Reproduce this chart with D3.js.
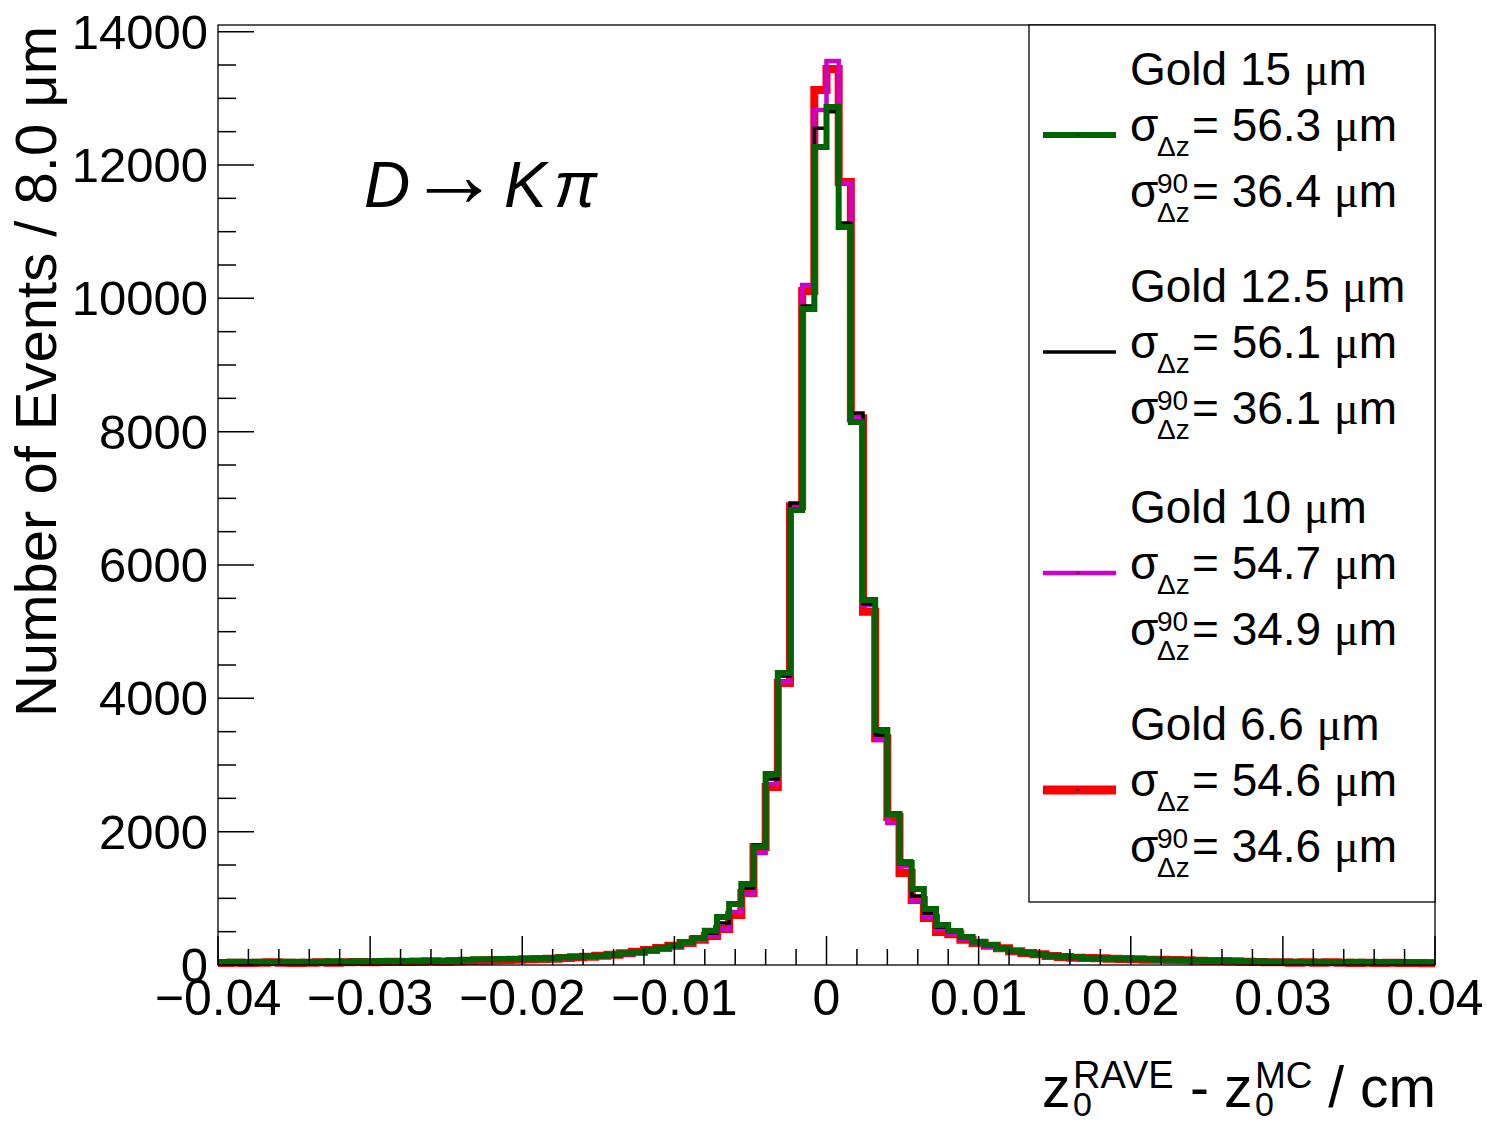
<!DOCTYPE html>
<html><head><meta charset="utf-8">
<script src="https://cdn.jsdelivr.net/npm/d3@7"></script>
<style>body{margin:0;background:#fff}svg{display:block}text{font-family:"Liberation Sans",Arial,sans-serif}</style>
</head><body>
<script>
const xDomain = [-0.04, 0.04];
const yDomain = [0, 14100];
const binWidth = 0.0008;
const xTickValues = [-0.04, -0.03, -0.02, -0.01, 0, 0.01, 0.02, 0.03, 0.04];
const xTickLabels = ["\u22120.04", "\u22120.03", "\u22120.02", "\u22120.01", "0", "0.01", "0.02", "0.03", "0.04"];
const yTickValues = [0, 2000, 4000, 6000, 8000, 10000, 12000, 14000];
const yTickLabels = ["0", "2000", "4000", "6000", "8000", "10000", "12000", "14000"];

const gold15 = [45,50,45,50,45,50,50,45,50,55, 50,55,55,60,55,60,65,60,65,70, 80,85,85,90,90,95,100,105,115,125,
 135,140,150,175,190,225,255,290,340,405, 515,720,915,1215,1770,2865,4380,6825,9840,12270,
 12870,11070,8145,5475,3525,2265,1530,1140,840,600, 510,420,350,300,250,210,180,160,140,125,
 115,105,100,95,90,90,85,80,80,75, 70,65,65,60,55,55,50,50,50,45, 50,45,45,50,45,45,40,45,45,40];
const gold125 = [40,45,50,45,50,45,55,50,45,50, 55,50,60,55,60,65,60,65,70,65, 75,80,90,85,95,90,100,110,110,120,
 130,145,145,170,195,215,250,285,330,390, 480,630,900,1155,1800,2790,4335,6930,9885,12550,
 12800,11130,8280,5415,3450,2250,1560,1035,780,570, 495,405,340,290,245,205,175,155,135,120,
 110,105,95,95,85,85,80,80,75,70, 70,65,60,60,55,50,55,50,45,45, 45,50,45,45,40,45,45,40,40,45];
const gold10 = [35,40,45,40,45,50,45,50,45,50, 50,55,50,55,60,55,60,65,60,65, 70,75,80,80,90,85,95,100,105,115,
 120,130,140,160,180,205,235,270,315,375, 435,540,795,1065,1680,2715,4245,6850,10200,12825,
 13560,11730,8200,5400,3375,2130,1480,960,720,540, 465,385,325,275,235,195,170,150,130,115,
 105,100,95,90,85,80,80,75,70,70, 65,60,60,55,55,50,50,50,45,45, 45,45,40,45,40,40,45,40,40,35];
const gold66 = [30,35,30,35,40,35,30,35,40,35, 40,45,40,45,50,45,50,55,50,55, 60,65,70,75,80,85,90,95,105,115,
 125,140,155,175,200,225,255,290,330,380, 435,540,750,1080,1770,2670,4230,6880,10110,13125,
 13440,11745,8200,5300,3400,2220,1380,975,705,495, 460,380,330,290,250,205,180,160,135,120,
 110,105,100,95,90,85,80,80,75,70, 65,60,60,55,50,45,40,40,35,40, 35,40,35,30,35,30,35,30,30,25];

const seriesNames = ["Gold 15 \u03bcm", "Gold 12.5 \u03bcm", "Gold 10 \u03bcm", "Gold 6.6 \u03bcm"];
const sigmaValues = ["56.3", "56.1", "54.7", "54.6"];
const sigma90Values = ["36.4", "36.1", "34.9", "34.6"];

const W = 1487, H = 1125;
const L = 218, R = 1435, T = 25, B = 965;
const svg = d3.select("body").append("svg").attr("width", W).attr("height", H);
const x = d3.scaleLinear().domain(xDomain).range([L, R]);
const y = d3.scaleLinear().domain(yDomain).range([B, T]);

const styles = [
  {data: gold66, color: "#ff0000", w: 8},
  {data: gold10, color: "#cc00cc", w: 4.5},
  {data: gold125, color: "#000000", w: 3.5},
  {data: gold15, color: "#006400", w: 6}
];
const line = d3.line().x(d => x(d[0])).y(d => y(d[1])).curve(d3.curveStepAfter);
styles.forEach(s => {
  const pts = s.data.map((v, i) => [xDomain[0] + i * binWidth, v]);
  pts.push([xDomain[0] + s.data.length * binWidth, s.data[s.data.length - 1]]);
  svg.append("path").attr("d", line(pts)).attr("fill", "none")
    .attr("stroke", s.color).attr("stroke-width", s.w).attr("stroke-linejoin", "miter").attr("stroke-linecap", "butt");
});

// frame
svg.append("rect").attr("x", L).attr("y", T).attr("width", R - L).attr("height", B - T)
  .attr("fill", "none").attr("stroke", "#000").attr("stroke-width", 1.3);

// x axis ticks
const gx = svg.append("g");
d3.range(-0.04, 0.04001, 0.002).forEach(v => {
  const major = Math.abs(Math.round(v * 100) - v * 100) < 1e-6;
  gx.append("line").attr("x1", x(v)).attr("x2", x(v)).attr("y1", B).attr("y2", B - (major ? 29 : 16))
    .attr("stroke", "#000").attr("stroke-width", 1.5);
});
xTickValues.forEach((v, i) => {
  gx.append("text").attr("x", x(v)).attr("y", 1015).attr("text-anchor", "middle")
    .attr("font-size", 50).text(xTickLabels[i]);
});
// y axis ticks
const gy = svg.append("g");
d3.range(0, 14001, 500).forEach(v => {
  const major = v % 2000 === 0;
  gy.append("line").attr("x1", L).attr("x2", L + (major ? 36 : 18)).attr("y1", y(v)).attr("y2", y(v))
    .attr("stroke", "#000").attr("stroke-width", 1.5);
});
yTickValues.forEach((v, i) => {
  gy.append("text").attr("x", 208).attr("y", y(v) + 17).attr("text-anchor", "end")
    .attr("font-size", 49).text(yTickLabels[i]);
});

// y title
svg.append("text").attr("transform", "translate(56,26) rotate(-90)").attr("text-anchor", "end")
  .attr("font-size", 58).text("Number of Events / 8.0 \u03bcm");

// x title
const xt = svg.append("g").attr("font-size", 57);
xt.append("text").attr("x", 1042).attr("y", 1107).text("z");
xt.append("text").attr("x", 1073).attr("y", 1116).attr("font-size", 34).text("0");
xt.append("text").attr("x", 1073).attr("y", 1088).attr("font-size", 38).text("RAVE");
xt.append("text").attr("x", 1190).attr("y", 1107).text("-");
xt.append("text").attr("x", 1224).attr("y", 1107).text("z");
xt.append("text").attr("x", 1255).attr("y", 1116).attr("font-size", 34).text("0");
xt.append("text").attr("x", 1255).attr("y", 1088).attr("font-size", 37).text("MC");
xt.append("text").attr("x", 1436).attr("y", 1107).attr("text-anchor", "end").text("/ cm");

// D -> K pi label
const lab = svg.append("g").attr("font-family", "Liberation Serif, Times New Roman, serif").attr("font-size", 64);
lab.append("text").attr("x", 364).attr("y", 207).attr("font-style", "italic").text("D");
lab.append("text").attr("x", 408).attr("y", 206).attr("font-family", "DejaVu Sans").attr("font-size", 92).text("\u2192");
lab.append("text").attr("x", 504).attr("y", 207).attr("font-style", "italic").text("K");
lab.append("text").attr("x", 554).attr("y", 207).attr("font-style", "italic").text("\u03c0");

// legend
const lg = svg.append("g");
lg.append("rect").attr("x", 1029).attr("y", T).attr("width", R - 1029).attr("height", 902 - T)
  .attr("fill", "#fff").attr("stroke", "#000").attr("stroke-width", 1.3);
const legendOrder = [
  {color: "#006400", w: 6, dash: true},
  {color: "#000000", w: 3.5, dash: false},
  {color: "#cc00cc", w: 4.5, dash: true},
  {color: "#ff0000", w: 9, dash: true}
];
const gBase = [85, 302, 523, 740];
legendOrder.forEach((s, i) => {
  const g0 = gBase[i];
  lg.append("line").attr("x1", 1043).attr("x2", 1116).attr("y1", g0 + 50).attr("y2", g0 + 50)
    .attr("stroke", s.color).attr("stroke-width", s.w);
  if (s.dash) lg.append("rect").attr("x", 1076).attr("y", g0 + 49.5).attr("width", 4).attr("height", 1.2).attr("fill", "#222");
  const t1 = lg.append("text").attr("x", 1130).attr("y", g0).attr("font-size", 46);
  const parts = seriesNames[i].split("\u03bc");
  t1.append("tspan").text(parts[0]);
  t1.append("tspan").attr("font-family", "Liberation Serif").text("\u03bc");
  t1.append("tspan").text(parts[1]);
  const yb = g0 + 56;
  lg.append("text").attr("x", 1130).attr("y", yb).attr("font-size", 46).text("\u03c3");
  lg.append("text").attr("x", 1157).attr("y", yb + 15).attr("font-size", 28).text("\u0394z");
  const t2 = lg.append("text").attr("x", 1192).attr("y", yb).attr("font-size", 46);
  t2.append("tspan").text("= " + sigmaValues[i] + " ");
  t2.append("tspan").attr("font-family", "Liberation Serif").text("\u03bc");
  t2.append("tspan").text("m");
  const yc = g0 + 122;
  lg.append("text").attr("x", 1130).attr("y", yc).attr("font-size", 46).text("\u03c3");
  lg.append("text").attr("x", 1157).attr("y", yc - 14).attr("font-size", 28).text("90");
  lg.append("text").attr("x", 1157).attr("y", yc + 15).attr("font-size", 28).text("\u0394z");
  const t3 = lg.append("text").attr("x", 1192).attr("y", yc).attr("font-size", 46);
  t3.append("tspan").text("= " + sigma90Values[i] + " ");
  t3.append("tspan").attr("font-family", "Liberation Serif").text("\u03bc");
  t3.append("tspan").text("m");
});
</script>
</body></html>
